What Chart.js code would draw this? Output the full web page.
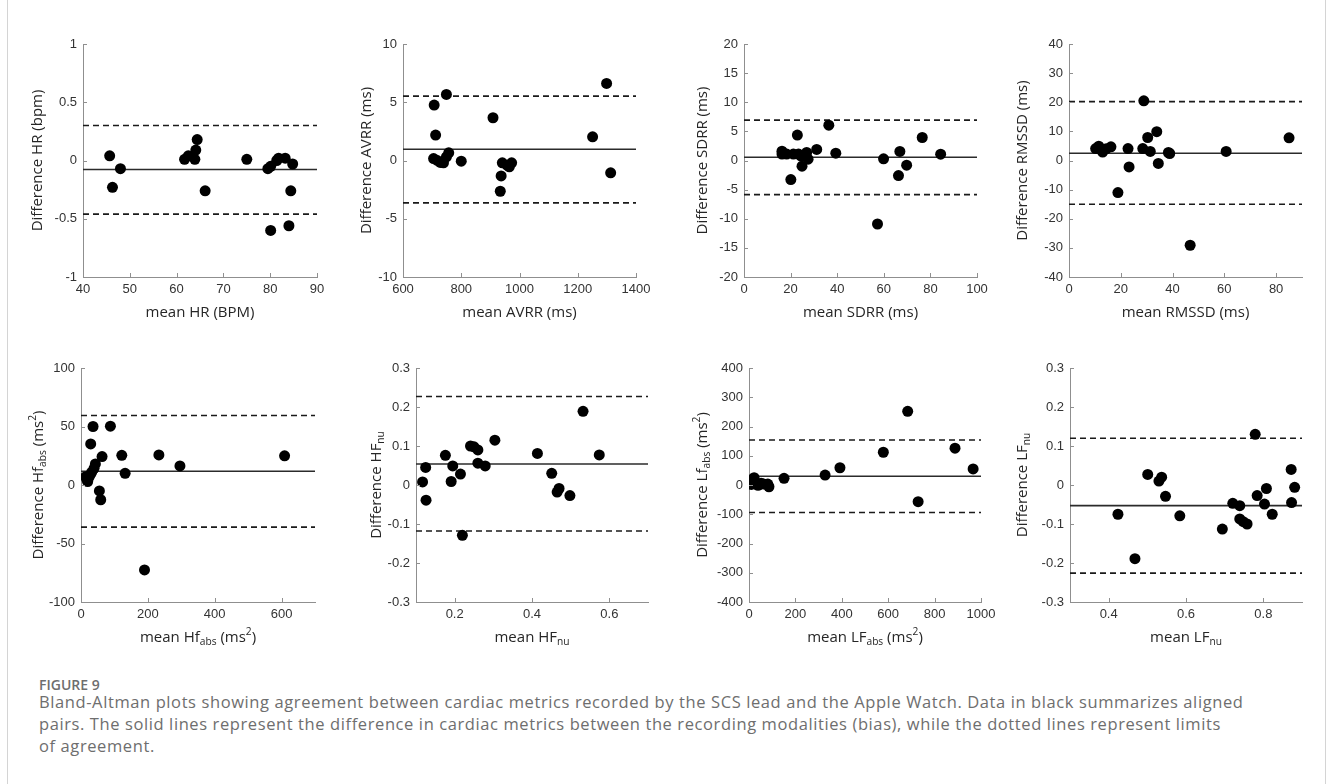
<!DOCTYPE html>
<html>
<head>
<meta charset="utf-8">
<script src="https://cdn.jsdelivr.net/npm/chart.js@4.4.1/dist/chart.umd.min.js"></script>
<style>
  body { margin: 0; background: #fff; }
  #page { position: relative; width: 1330px; height: 784px; overflow: hidden; background: #fff; }
  #frame { position: absolute; left: 7px; top: 0; width: 1319px; height: 784px;
           border-left: 1px solid #d4d4d4; border-right: 1px solid #d4d4d4; box-sizing: border-box; }
  canvas { position: absolute; }
  .fig { position: absolute; left: 39px; top: 677px; font: 600 14px/16px "Open Sans", sans-serif; color: #6e6e6e; }
  .txt { position: absolute; left: 39px; top: 691px; font: 400 16.5px/22px "Open Sans", sans-serif; color: #6e6e6e;
         white-space: nowrap; letter-spacing: 0.6px; }
</style>
</head>
<body>
<div id="page">
  <div id="frame"></div>
  <div class="fig">FIGURE 9</div>
  <div class="txt">Bland-Altman plots showing agreement between cardiac metrics recorded by the SCS lead and the Apple Watch. Data in black summarizes aligned<br>pairs. The solid lines represent the difference in cardiac metrics between the recording modalities (bias), while the dotted lines represent limits<br>of agreement.</div>
</div>
<script>
// ---- data ----
const hrMean = [45.7, 46.3, 48.0, 61.7, 62.5, 63.9, 64.1, 64.4, 66.1, 75.0, 79.5, 80.1, 80.1, 81.4, 81.8, 83.2, 84.0, 84.4, 84.8];
const hrDiff = [0.04, -0.23, -0.07, 0.01, 0.04, 0.01, 0.09, 0.18, -0.26, 0.01, -0.07, -0.05, -0.60, 0.00, 0.02, 0.02, -0.56, -0.26, -0.03];

const avrrMean = [707, 712, 705, 716, 728, 739, 749, 757, 749, 800, 909, 937, 934, 941, 957, 965, 973, 1251, 1299, 1313];
const avrrDiff = [4.76, 2.18, 0.17, 0.03, -0.17, -0.2, 0.31, 0.66, 5.67, -0.06, 3.67, -1.32, -2.64, -0.2, -0.4, -0.54, -0.2, 2.03, 6.62, -1.06];

const sdrrMean = [16.3, 16.3, 18.3, 20.1, 21.2, 22.9, 23.4, 24.5, 24.9, 26.9, 27.5, 31.2, 36.4, 39.4, 57.3, 59.9, 66.3, 66.9, 69.8, 76.5, 84.4];
const sdrrDiff = [1.6, 1.1, 1.1, -3.27, 1.1, 4.36, 1.1, 0.75, -0.97, 1.38, 0.23, 1.9, 6.07, 1.26, -10.9, 0.29, -2.58, 1.55, -0.8, 3.95, 1.09];

const rmssdMean = [10.3, 11.5, 12.1, 13.0, 14.4, 16.2, 18.9, 22.8, 23.2, 28.5, 28.9, 30.4, 31.4, 33.9, 34.5, 38.4, 38.9, 46.8, 60.7, 85.0];
const rmssdDiff = [4.1, 4.9, 3.8, 2.9, 4.0, 4.7, -11.0, 4.1, -2.2, 4.1, 20.5, 7.9, 3.1, 9.9, -1.0, 2.75, 2.4, -29.1, 3.1, 7.8];

const hfAbsMean = [14, 17, 20, 24, 27, 32, 29, 36, 39, 43, 55, 59, 63, 88, 122, 132, 190, 233, 296, 609];
const hfAbsDiff = [7.1, 4.9, 2.9, 6.6, 8.6, 10.9, 35.1, 50, 14.3, 18, -5.1, -12.6, 24.3, 50.3, 25.4, 10, -72.6, 25.7, 16.3, 24.9];

const hfNuMean = [0.117, 0.125, 0.126, 0.176, 0.195, 0.191, 0.215, 0.220, 0.241, 0.250, 0.260, 0.260, 0.279, 0.304, 0.414, 0.451, 0.465, 0.470, 0.498, 0.532, 0.574];
const hfNuDiff = [0.008, 0.045, -0.039, 0.076, 0.049, 0.009, 0.028, -0.129, 0.100, 0.098, 0.090, 0.056, 0.049, 0.115, 0.081, 0.030, -0.018, -0.009, -0.027, 0.189, 0.077];

const lfAbsMean = [10, 22, 29, 39, 52, 63, 81, 86, 151, 328, 392, 579, 684, 729, 888, 966];
const lfAbsDiff = [2, 25, 6, -1, 6, 3, 3, -6, 23, 34, 59, 112, 252, -57, 126, 55];

const lfNuMean = [0.424, 0.468, 0.501, 0.530, 0.537, 0.547, 0.584, 0.694, 0.721, 0.739, 0.739, 0.748, 0.758, 0.779, 0.784, 0.803, 0.808, 0.823, 0.872, 0.873, 0.881];
const lfNuDiff = [-0.075, -0.189, 0.027, 0.010, 0.020, -0.029, -0.079, -0.113, -0.047, -0.053, -0.087, -0.094, -0.100, 0.130, -0.027, -0.049, -0.009, -0.075, 0.040, -0.045, -0.006];

// bias and limits of agreement, same panel order
const biasValues = [-0.077, 0.97, 0.57, 2.5, 11.7, 0.054, 30, -0.053];
const upperLoA   = [0.30, 5.53, 6.93, 20.2, 59.4, 0.227, 154, 0.120];
const lowerLoA   = [-0.46, -3.64, -5.85, -15.0, -36, -0.118, -94, -0.226];

// axis ranges and tick labels
const xRanges = [[40, 90], [600, 1400], [0, 100], [0, 90], [0, 700], [0.1, 0.7], [0, 1000], [0.3, 0.9]];
const xTicks = [
  [40, 50, 60, 70, 80, 90],
  [600, 800, 1000, 1200, 1400],
  [0, 20, 40, 60, 80, 100],
  [0, 20, 40, 60, 80],
  [0, 200, 400, 600],
  [0.2, 0.4, 0.6],
  [0, 200, 400, 600, 800, 1000],
  [0.4, 0.6, 0.8]
];
const yTicks = [
  [-1, -0.5, 0, 0.5, 1],
  [-10, -5, 0, 5, 10],
  [-20, -15, -10, -5, 0, 5, 10, 15, 20],
  [-40, -30, -20, -10, 0, 10, 20, 30, 40],
  [-100, -50, 0, 50, 100],
  [-0.3, -0.2, -0.1, 0, 0.1, 0.2, 0.3],
  [-400, -300, -200, -100, 0, 100, 200, 300, 400],
  [-0.3, -0.2, -0.1, 0, 0.1, 0.2, 0.3]
];

// axis titles: [text, 'sub'|'sup'|undefined]
const xTitles = [
  [['mean HR (BPM)']],
  [['mean AVRR (ms)']],
  [['mean SDRR (ms)']],
  [['mean RMSSD (ms)']],
  [['mean Hf'], ['abs', 'sub'], [' (ms'], ['2', 'sup'], [')']],
  [['mean HF'], ['nu', 'sub']],
  [['mean LF'], ['abs', 'sub'], [' (ms'], ['2', 'sup'], [')']],
  [['mean LF'], ['nu', 'sub']]
];
const yTitles = [
  [['Difference HR (bpm)']],
  [['Difference AVRR (ms)']],
  [['Difference SDRR (ms)']],
  [['Difference RMSSD (ms)']],
  [['Difference Hf'], ['abs', 'sub'], [' (ms'], ['2', 'sup'], [')']],
  [['Difference HF'], ['nu', 'sub']],
  [['Difference Lf'], ['abs', 'sub'], [' (ms'], ['2', 'sup'], [')']],
  [['Difference LF'], ['nu', 'sub']]
];

const meanSets = [hrMean, avrrMean, sdrrMean, rmssdMean, hfAbsMean, hfNuMean, lfAbsMean, lfNuMean];
const diffSets = [hrDiff, avrrDiff, sdrrDiff, rmssdDiff, hfAbsDiff, hfNuDiff, lfAbsDiff, lfNuDiff];

// ---- layout (plot area: left, top, width, height) ----
const plotBoxes = [
  [83, 44, 234, 233], [403, 44, 233, 233], [744, 44, 233, 233], [1069, 44, 233, 233],
  [81, 368, 234, 234], [416, 368, 232, 234], [749, 368, 232, 234], [1070, 368, 232, 234]
];
const yTitleGap = [45, 36, 41, 46, 42, 39, 46, 47];
const PAD_L = 70, PAD_T = 15, PAD_R = 22, PAD_B = 60;
const axisColor = '#8f8f8f';
const titleFont = '"Open Sans", sans-serif';
const tickFont = { family: '"Liberation Sans", Arial, sans-serif', size: 13 };

function drawRich(ctx, parts, size) {
  const widths = parts.map(p => {
    ctx.font = (p[1] ? size * 0.68 : size) + 'px ' + titleFont;
    return ctx.measureText(p[0]).width;
  });
  const total = widths.reduce((a, b) => a + b, 0);
  let x = -total / 2;
  parts.forEach((p, i) => {
    ctx.font = (p[1] ? size * 0.68 : size) + 'px ' + titleFont;
    const dy = p[1] === 'sub' ? 4 : p[1] === 'sup' ? -6 : 0;
    ctx.fillText(p[0], x, dy);
    x += widths[i];
  });
}

const decor = {
  id: 'decor',
  afterDraw(chart, args, opts) {
    const { ctx, chartArea: a, scales } = chart;
    const sx = scales.x, sy = scales.y;
    ctx.save();
    // inward tick marks
    ctx.strokeStyle = axisColor;
    ctx.lineWidth = 1;
    ctx.beginPath();
    sx.ticks.forEach(t => {
      const px = Math.round(sx.getPixelForValue(t.value)) + 0.5;
      ctx.moveTo(px, a.bottom); ctx.lineTo(px, a.bottom - 4);
    });
    sy.ticks.forEach(t => {
      const py = Math.round(sy.getPixelForValue(t.value)) + 0.5;
      ctx.moveTo(a.left, py); ctx.lineTo(a.left + 4, py);
    });
    ctx.stroke();
    // axis titles
    ctx.fillStyle = '#262626';
    ctx.textBaseline = 'middle';
    ctx.textAlign = 'left';
    ctx.save();
    ctx.translate((a.left + a.right) / 2, a.bottom + 36);
    drawRich(ctx, opts.xTitle, 15);
    ctx.restore();
    ctx.save();
    ctx.translate(a.left - opts.yGap, (a.top + a.bottom) / 2);
    ctx.rotate(-Math.PI / 2);
    drawRich(ctx, opts.yTitle, 15);
    ctx.restore();
    ctx.restore();
  }
};

const fmt = v => String(Math.round(v * 1000) / 1000);
const page = document.getElementById('page');

plotBoxes.forEach((box, i) => {
  const [L, T, W, H] = box;
  const canvas = document.createElement('canvas');
  canvas.width = W + PAD_L + PAD_R;
  canvas.height = H + PAD_T + PAD_B;
  canvas.style.left = (L - PAD_L) + 'px';
  canvas.style.top = (T - PAD_T) + 'px';
  page.appendChild(canvas);

  const xr = xRanges[i];
  const yt = yTicks[i];
  const xt = xTicks[i];
  const points = meanSets[i].map((m, k) => ({ x: m, y: diffSets[i][k] }));
  const hline = v => [{ x: xr[0], y: v }, { x: xr[1], y: v }];

  new Chart(canvas.getContext('2d'), {
    type: 'scatter',
    data: {
      datasets: [
        { type: 'scatter', data: points, backgroundColor: '#000', borderWidth: 0, pointRadius: 5.5 },
        { type: 'line', data: hline(biasValues[i]), borderColor: '#2b2b2b', borderWidth: 1.6, pointRadius: 0 },
        { type: 'line', data: hline(upperLoA[i]), borderColor: '#1a1a1a', borderWidth: 1.6, borderDash: [6, 4], pointRadius: 0 },
        { type: 'line', data: hline(lowerLoA[i]), borderColor: '#1a1a1a', borderWidth: 1.6, borderDash: [6, 4], pointRadius: 0 }
      ]
    },
    options: {
      responsive: false,
      animation: false,
      events: [],
      layout: { padding: { top: PAD_T, right: PAD_R, left: 0, bottom: 0 } },
      plugins: {
        legend: { display: false },
        tooltip: { enabled: false },
        decor: { xTitle: xTitles[i], yTitle: yTitles[i], yGap: yTitleGap[i] }
      },
      scales: {
        x: {
          type: 'linear',
          min: xr[0], max: xr[1],
          afterBuildTicks: s => { s.ticks = xt.map(v => ({ value: v })); },
          afterFit: s => { s.height = PAD_B; },
          grid: { drawOnChartArea: false, drawTicks: false },
          border: { color: axisColor, width: 1 },
          ticks: { padding: 5, color: '#333', font: tickFont, callback: fmt, maxRotation: 0, autoSkip: false }
        },
        y: {
          type: 'linear',
          min: yt[0], max: yt[yt.length - 1],
          afterBuildTicks: s => { s.ticks = yt.map(v => ({ value: v })); },
          afterFit: s => { s.width = PAD_L; },
          grid: { drawOnChartArea: false, drawTicks: false },
          border: { color: axisColor, width: 1 },
          ticks: { padding: 6, color: '#333', font: tickFont, callback: fmt, autoSkip: false }
        }
      }
    },
    plugins: [decor]
  });
});
</script>
</body>
</html>
